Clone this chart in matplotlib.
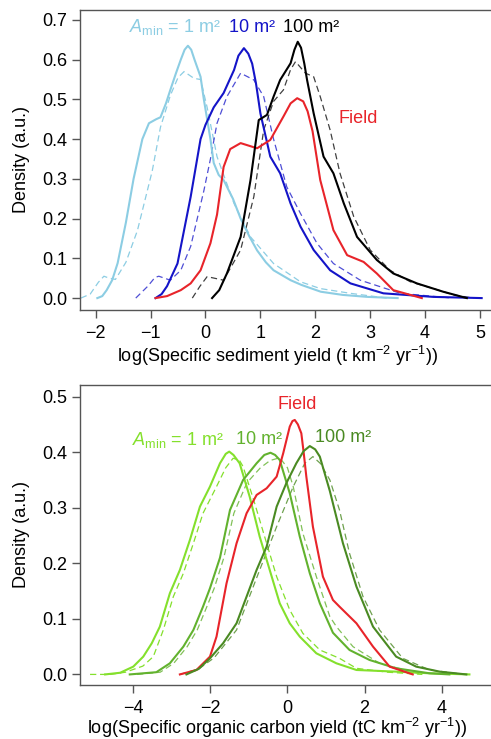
import matplotlib
matplotlib.use("Agg")
import matplotlib.pyplot as plt

plt.rcParams['font.family'] = ['Liberation Sans', 'DejaVu Sans']
plt.rcParams['mathtext.fontset'] = 'custom'
plt.rcParams['mathtext.rm'] = 'Liberation Sans'
plt.rcParams['mathtext.it'] = 'Liberation Sans:italic'

# ---- top panel: sediment yield densities ----
sed_1_x = [-1.97, -1.88, -1.8, -1.7, -1.6, -1.45, -1.31, -1.15, -1.03, -0.9, -0.82, -0.72, -0.64, -0.54,
           -0.45, -0.38, -0.32, -0.26, -0.2, -0.09, -0.03, 0.09, 0.15, 0.24, 0.33, 0.5, 0.64, 0.8, 0.94,
           1.1, 1.24, 1.55, 1.75, 2.1, 2.5, 2.95, 3.5]
sed_1_y = [0.0, 0.005, 0.02, 0.045, 0.088, 0.19, 0.30, 0.40, 0.44, 0.45, 0.455, 0.49, 0.524, 0.565,
           0.60, 0.625, 0.635, 0.625, 0.60, 0.557, 0.50, 0.40, 0.34, 0.31, 0.297, 0.25, 0.20, 0.155, 0.12,
           0.09, 0.07, 0.045, 0.033, 0.016, 0.008, 0.003, 0.0]
sed_1d_x = [-2.27, -2.1, -1.95, -1.85, -1.75, -1.64, -1.45, -1.24, -0.97, -0.82, -0.64, -0.5, -0.39,
            -0.21, -0.09, 0.03, 0.21, 0.52, 0.82, 1.24, 1.73, 2.09, 2.64, 3.3]
sed_1d_y = [0.0, 0.01, 0.04, 0.055, 0.05, 0.047, 0.09, 0.17, 0.32, 0.43, 0.51, 0.555, 0.57,
            0.553, 0.55, 0.48, 0.356, 0.238, 0.154, 0.087, 0.041, 0.024, 0.012, 0.0]

sed_10_x = [-0.91, -0.8, -0.7, -0.51, -0.27, -0.09, 0.0, 0.15, 0.33, 0.52, 0.60, 0.70, 0.78, 0.85,
            0.92, 1.0, 1.18, 1.36, 1.55, 1.73, 1.97, 2.27, 2.64, 3.24, 4.15, 5.03]
sed_10_y = [0.0, 0.01, 0.03, 0.087, 0.255, 0.40, 0.436, 0.48, 0.516, 0.574, 0.61, 0.629, 0.615, 0.59,
            0.54, 0.465, 0.356, 0.314, 0.238, 0.18, 0.121, 0.07, 0.037, 0.012, 0.003, 0.0]
sed_10d_x = [-1.27, -1.05, -0.92, -0.85, -0.64, -0.45, -0.27, -0.03, 0.09, 0.21, 0.39, 0.64, 0.88, 1.06,
             1.24, 1.48, 1.73, 2.03, 2.33, 2.82, 3.55, 4.5]
sed_10d_y = [0.0, 0.03, 0.052, 0.055, 0.045, 0.07, 0.13, 0.27, 0.35, 0.44, 0.507, 0.566, 0.549, 0.507,
             0.40, 0.28, 0.213, 0.138, 0.087, 0.045, 0.012, 0.0]

sed_100_x = [0.12, 0.25, 0.39, 0.64, 0.82, 0.97, 1.12, 1.24, 1.36, 1.55, 1.62, 1.68, 1.74, 1.80, 1.85,
             1.97, 2.15, 2.33, 2.52, 2.76, 3.12, 3.42, 3.85, 4.33, 4.76]
sed_100_y = [0.0, 0.02, 0.062, 0.154, 0.297, 0.448, 0.461, 0.507, 0.549, 0.591, 0.625, 0.645, 0.63,
             0.59, 0.549, 0.465, 0.356, 0.314, 0.238, 0.154, 0.096, 0.062, 0.037, 0.016, 0.0]
sed_100d_x = [-0.24, -0.1, 0.03, 0.33, 0.64, 0.88, 1.06, 1.24, 1.42, 1.55, 1.64, 1.82, 1.97, 2.09,
              2.27, 2.45, 2.70, 3.0, 3.36, 3.73, 4.15, 4.52, 4.88]
sed_100d_y = [0.0, 0.03, 0.054, 0.045, 0.121, 0.255, 0.423, 0.495, 0.524, 0.575, 0.595, 0.566, 0.557,
              0.507, 0.423, 0.314, 0.205, 0.121, 0.07, 0.041, 0.024, 0.008, 0.0]

sed_field_x = [-0.91, -0.7, -0.45, -0.27, -0.09, 0.09, 0.21, 0.33, 0.45, 0.64, 0.94, 1.18, 1.42, 1.55,
               1.67, 1.78, 1.86, 1.95, 2.09, 2.33, 2.58, 2.88, 3.12, 3.42, 3.94]
sed_field_y = [0.0, 0.005, 0.02, 0.037, 0.07, 0.138, 0.21, 0.33, 0.375, 0.39, 0.377, 0.398, 0.457,
               0.49, 0.503, 0.495, 0.47, 0.42, 0.297, 0.171, 0.108, 0.091, 0.062, 0.02, 0.0]

# ---- bottom panel: organic carbon yield densities ----
oc_1_x = [-4.73, -4.34, -4.0, -3.74, -3.52, -3.31, -3.05, -2.79, -2.53, -2.27, -2.01, -1.75, -1.6, -1.51,
          -1.40, -1.24, -0.98, -0.72, -0.46, -0.20, 0.06, 0.32, 0.75, 1.27, 1.79, 2.82, 3.69, 4.72]
oc_1_y = [0.0, 0.003, 0.014, 0.032, 0.056, 0.086, 0.146, 0.188, 0.242, 0.302, 0.338, 0.38, 0.397, 0.401,
          0.395, 0.38, 0.32, 0.248, 0.188, 0.128, 0.092, 0.068, 0.038, 0.02, 0.008, 0.005, 0.002, 0.0]
oc_1d_x = [-5.12, -4.6, -4.2, -3.75, -3.48, -3.22, -2.96, -2.70, -2.44, -2.19, -1.84, -1.6, -1.41, -1.25,
           -1.15, -0.85, -0.54, -0.28, 0.06, 0.40, 0.84, 1.35, 1.79, 2.6, 3.5]
oc_1d_y = [0.0, 0.0, 0.004, 0.015, 0.032, 0.08, 0.14, 0.182, 0.236, 0.29, 0.338, 0.372, 0.389, 0.386,
           0.374, 0.308, 0.236, 0.176, 0.116, 0.074, 0.044, 0.029, 0.011, 0.004, 0.0]

oc_10_x = [-4.09, -3.40, -3.05, -2.70, -2.44, -2.19, -2.01, -1.75, -1.49, -1.15, -0.80, -0.60, -0.44,
           -0.32, -0.20, 0.06, 0.32, 0.58, 0.84, 1.18, 1.61, 2.13, 2.82, 3.69, 4.2]
oc_10_y = [0.0, 0.004, 0.02, 0.05, 0.08, 0.122, 0.155, 0.21, 0.296, 0.35, 0.38, 0.395, 0.399,
           0.395, 0.386, 0.326, 0.248, 0.182, 0.128, 0.075, 0.044, 0.026, 0.011, 0.002, 0.0]
oc_10d_x = [-3.9, -3.3, -2.95, -2.60, -2.34, -2.09, -1.9, -1.65, -1.39, -1.05, -0.70, -0.45, -0.2,
            0.0, 0.15, 0.40, 0.75, 1.10, 1.27, 1.70, 2.39, 3.5]
oc_10d_y = [0.0, 0.004, 0.02, 0.05, 0.08, 0.122, 0.155, 0.21, 0.29, 0.345, 0.372, 0.385, 0.39,
            0.372, 0.338, 0.254, 0.176, 0.104, 0.086, 0.05, 0.02, 0.0]

oc_100_x = [-2.62, -2.3, -2.01, -1.67, -1.32, -1.06, -0.80, -0.54, -0.28, -0.03, 0.23, 0.42, 0.58,
            0.72, 0.84, 1.10, 1.44, 1.79, 2.22, 2.82, 3.34, 3.95, 4.64]
oc_100_y = [0.0, 0.01, 0.029, 0.056, 0.092, 0.14, 0.188, 0.23, 0.302, 0.344, 0.38, 0.402, 0.411,
            0.405, 0.392, 0.33, 0.236, 0.158, 0.086, 0.032, 0.014, 0.005, 0.0]
oc_100d_x = [-2.79, -2.3, -1.9, -1.32, -0.72, -0.28, 0.15, 0.45, 0.66, 0.85, 1.10, 1.35, 1.61, 1.96,
             2.39, 2.99, 3.69, 4.6]
oc_100d_y = [0.0, 0.01, 0.03, 0.08, 0.188, 0.266, 0.338, 0.38, 0.392, 0.38, 0.35, 0.296, 0.218, 0.14,
             0.08, 0.029, 0.008, 0.0]

oc_field_x = [-2.79, -2.36, -2.01, -1.84, -1.58, -1.32, -1.06, -0.80, -0.54, -0.28, -0.11, 0.06, 0.13,
              0.19, 0.27, 0.36, 0.42, 0.49, 0.66, 0.92, 1.18, 1.35, 1.79, 2.22, 2.65, 3.25]
oc_field_y = [0.0, 0.008, 0.032, 0.068, 0.164, 0.236, 0.29, 0.323, 0.335, 0.356, 0.398, 0.446, 0.456,
              0.458, 0.45, 0.434, 0.40, 0.356, 0.266, 0.176, 0.134, 0.122, 0.092, 0.05, 0.014, 0.0]

c_lblue = '#8ccde3'
c_blue = '#1414c8'
c_black = '#000000'
c_red = '#e8242a'
c_lgreen = '#84e02c'
c_mgreen = '#62b22e'
c_dgreen = '#4a8a22'
c_spine = '#555555'

fig = plt.figure(figsize=(4.91, 7.39), dpi=100)
ax1 = fig.add_axes([0.163, 0.5805, 0.837, 0.406])
ax2 = fig.add_axes([0.163, 0.0731, 0.837, 0.406])

lw_s = 1.5
lw_d = 0.9
fs = 13

ax1.plot(sed_1d_x, sed_1d_y, color=c_lblue, lw=lw_d, ls=(0, (5, 3)))
ax1.plot(sed_10d_x, sed_10d_y, color=c_blue, lw=lw_d, ls=(0, (5, 3)), alpha=0.75)
ax1.plot(sed_100d_x, sed_100d_y, color=c_black, lw=lw_d, ls=(0, (5, 3)), alpha=0.75)
ax1.plot(sed_1_x, sed_1_y, color=c_lblue, lw=lw_s)
ax1.plot(sed_10_x, sed_10_y, color=c_blue, lw=lw_s)
ax1.plot(sed_field_x, sed_field_y, color=c_red, lw=lw_s)
ax1.plot(sed_100_x, sed_100_y, color=c_black, lw=lw_s)

ax2.plot(oc_1d_x, oc_1d_y, color=c_lgreen, lw=lw_d, ls=(0, (5, 3)))
ax2.plot(oc_10d_x, oc_10d_y, color=c_mgreen, lw=lw_d, ls=(0, (5, 3)), alpha=0.8)
ax2.plot(oc_100d_x, oc_100d_y, color=c_dgreen, lw=lw_d, ls=(0, (5, 3)), alpha=0.8)
ax2.plot(oc_1_x, oc_1_y, color=c_lgreen, lw=lw_s)
ax2.plot(oc_10_x, oc_10_y, color=c_mgreen, lw=lw_s)
ax2.plot(oc_field_x, oc_field_y, color=c_red, lw=lw_s)
ax2.plot(oc_100_x, oc_100_y, color=c_dgreen, lw=lw_s)

ax1.set_xlim(-2.285, 5.2)
ax1.set_ylim(-0.03, 0.725)
ax1.set_xticks([-2, -1, 0, 1, 2, 3, 4, 5])
ax1.set_xticklabels(['\u22122', '\u22121', '0', '1', '2', '3', '4', '5'])
ax1.set_yticks([0.0, 0.1, 0.2, 0.3, 0.4, 0.5, 0.6, 0.7])
ax1.set_yticklabels(['0.0', '0.1', '0.2', '0.3', '0.4', '0.5', '0.6', '0.7'])
ax1.set_xlabel(r'log(Specific sediment yield (t km$^{\mathregular{-2}}$ yr$^{\mathregular{-1}}$))',
               fontsize=fs, va='center')
# axes is 300 px tall; label centre ~45 px under the bottom spine
ax1.xaxis.set_label_coords(0.48, -46 / 300)

ax2.set_xlim(-5.38, 5.28)
ax2.set_ylim(-0.019, 0.521)
ax2.set_xticks([-4, -2, 0, 2, 4])
ax2.set_xticklabels(['\u22124', '\u22122', '0', '2', '4'])
ax2.set_yticks([0.0, 0.1, 0.2, 0.3, 0.4, 0.5])
ax2.set_yticklabels(['0.0', '0.1', '0.2', '0.3', '0.4', '0.5'])
ax2.set_xlabel(r'log(Specific organic carbon yield (tC km$^{\mathregular{-2}}$ yr$^{\mathregular{-1}}$))',
               fontsize=fs, va='center')
ax2.xaxis.set_label_coords(0.48, -43 / 300)

for ax in (ax1, ax2):
    ax.set_ylabel('Density (a.u.)', fontsize=fs, labelpad=9)
    ax.spines['right'].set_visible(False)
    for s in ('left', 'bottom', 'top'):
        ax.spines[s].set_color(c_spine)
        ax.spines[s].set_linewidth(1.0)
    ax.tick_params(direction='out', length=6, width=1.0, color=c_spine, labelsize=fs)
    ax.tick_params(axis='x', pad=5)
    ax.tick_params(axis='y', pad=3)

amin = r'$\mathit{A}_{\mathregular{min}}$ = 1 m²'
ax1.text(-0.55, 0.682, amin, color=c_lblue, fontsize=fs, ha='center', va='center')
ax1.text(0.85, 0.682, '10 m²', color=c_blue, fontsize=fs, ha='center', va='center')
ax1.text(1.92, 0.682, '100 m²', color=c_black, fontsize=fs, ha='center', va='center')
ax1.text(2.79, 0.453, 'Field', color=c_red, fontsize=fs, ha='center', va='center')

ax2.text(-2.85, 0.422, amin, color=c_lgreen, fontsize=fs, ha='center', va='center')
ax2.text(-0.73, 0.422, '10 m²', color=c_mgreen, fontsize=fs, ha='center', va='center')
ax2.text(0.25, 0.485, 'Field', color=c_red, fontsize=fs, ha='center', va='center')
ax2.text(1.45, 0.426, '100 m²', color=c_dgreen, fontsize=fs, ha='center', va='center')

fig.savefig('out.png', dpi=100)
